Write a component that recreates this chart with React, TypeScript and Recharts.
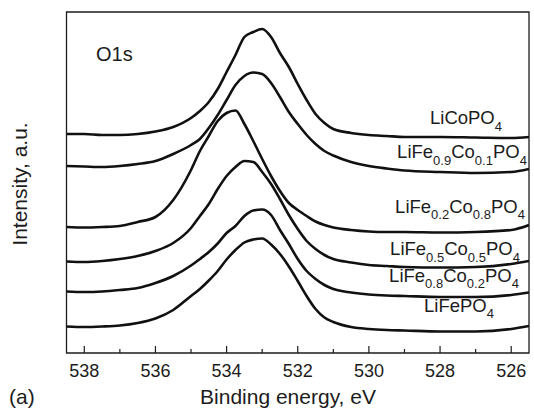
import React from "react";
import {
  LineChart,
  Line,
  XAxis,
  YAxis,
  ReferenceArea,
  Customized,
} from "recharts";

// binding energy grid, eV
const energy = [
  538.5, 538, 537.5, 537, 536.5, 536, 535.5, 535, 534.75, 534.5, 534.25, 534,
  533.75, 533.5, 533.25, 533, 532.75, 532.5, 532.25, 532, 531.75, 531.5,
  531.25, 531, 530.5, 530, 529.5, 529, 528, 527, 526, 525.5,
];

// O1s intensity (a.u., curves already offset)
const liCoPO4 = [
  219, 219, 218, 218, 219, 221.5, 226, 235, 242, 251, 264, 281, 298, 316, 321,
  324, 316, 300, 286, 269, 253, 239, 230, 224, 220, 218, 217, 216, 216, 215.5,
  215, 216,
];
const liFe09Co01 = [
  187, 186.5, 186, 187, 189, 192, 199, 208, 214, 225, 238, 253, 268, 277, 280.5,
  279, 270, 256, 241, 229, 218, 209, 202, 197.5, 191, 187, 184.5, 182.5, 181,
  180, 181, 184,
];
const liFe02Co08 = [
  126, 125.5, 126, 127, 131, 136, 153, 183, 202, 217, 232, 240, 242.5, 229, 212,
  194, 177, 162, 150, 143, 137, 131.5, 128, 125.5, 123, 121.5, 121, 121, 120.5,
  121, 123, 128,
];
const liFe05Co05 = [
  91.5, 91, 92, 94, 97, 102, 110, 125, 137, 149, 164, 177, 186, 192, 191, 181,
  169, 154, 138, 124, 112, 104, 98, 94, 90.5, 88, 87, 86, 85.5, 86, 89, 92,
];
const liFe08Co02 = [
  61.5, 61, 61.5, 63, 65, 70, 77, 87.5, 94, 101, 109.5, 120, 127, 137, 142.5,
  143.5, 138, 123, 109, 94, 82, 74, 68, 64, 60.5, 58.5, 57.5, 57, 56, 56, 58,
  60.5,
];
const liFePO4 = [
  26.5, 26, 26.5, 27.5, 30, 34.5, 43, 57, 64, 72.5, 82, 93.5, 103, 110.5, 113.5,
  114.5, 108.5, 99, 86.5, 72, 57, 44, 35.5, 31, 26, 24, 23, 22.5, 21.5, 21.5, 24,
  27,
];

const xTicks = [538, 537, 536, 535, 534, 533, 532, 531, 530, 529, 528, 527, 526];
const majorTicks = [538, 536, 534, 532, 530, 528, 526];

const seriesKeys = ["s0", "s1", "s2", "s3", "s4", "s5"];

const data = energy.map((e, i) => ({
  e,
  s0: liCoPO4[i],
  s1: liFe09Co01[i],
  s2: liFe02Co08[i],
  s3: liFe05Co05[i],
  s4: liFe08Co02[i],
  s5: liFePO4[i],
}));

// label parts: [text, isSubscript]
const labels: { cx: number; y: number; parts: [string, boolean][] }[] = [
  { cx: 466, y: 124, parts: [["LiCoPO", false], ["4", true]] },
  {
    cx: 462,
    y: 158,
    parts: [["LiFe", false], ["0.9", true], ["Co", false], ["0.1", true], ["PO", false], ["4", true]],
  },
  {
    cx: 460,
    y: 212.5,
    parts: [["LiFe", false], ["0.2", true], ["Co", false], ["0.8", true], ["PO", false], ["4", true]],
  },
  {
    cx: 455,
    y: 255,
    parts: [["LiFe", false], ["0.5", true], ["Co", false], ["0.5", true], ["PO", false], ["4", true]],
  },
  {
    cx: 454,
    y: 281.5,
    parts: [["LiFe", false], ["0.8", true], ["Co", false], ["0.2", true], ["PO", false], ["4", true]],
  },
  { cx: 459, y: 311.5, parts: [["LiFePO", false], ["4", true]] },
];

const ink = "#1c1c1c";

function EnergyTick(props: any) {
  const { x, y, payload } = props;
  const major = majorTicks.includes(payload.value);
  return (
    <g>
      <line
        x1={x}
        x2={x}
        y1={y}
        y2={y - (major ? 7 : 4)}
        stroke={ink}
        strokeWidth={1.2}
      />
      {major && (
        <text x={x} y={y + 24} textAnchor="middle" fontSize={18} fill={ink}>
          {payload.value}
        </text>
      )}
    </g>
  );
}

function Annotations() {
  return (
    <g fill={ink}>
      <text x={96} y={61} fontSize={20}>
        O1s
      </text>
      {labels.map((l, i) => {
        let sub = false;
        return (
          <text key={i} x={l.cx} y={l.y} fontSize={18.5} textAnchor="middle">
            {l.parts.map(([t, isSub], j) => {
              const dy = isSub === sub ? 0 : isSub ? 6.5 : -6.5;
              sub = isSub;
              return (
                <tspan key={j} dy={dy} fontSize={isSub ? 13 : 18.5}>
                  {t}
                </tspan>
              );
            })}
          </text>
        );
      })}
      <text
        x={27}
        y={184}
        fontSize={21}
        textAnchor="middle"
        transform="rotate(-90 27 184)"
      >
        Intensity, a.u.
      </text>
      <text x={288} y={404} fontSize={21} textAnchor="middle">
        Binding energy, eV
      </text>
      <text x={9} y={404} fontSize={21}>
        (a)
      </text>
    </g>
  );
}

export default function App() {
  return (
    <div
      style={{
        position: "absolute",
        left: 0,
        top: 0,
        width: 534,
        height: 410,
        background: "#fff",
        fontFamily: "'Liberation Sans', Arial, sans-serif",
      }}
    >
      <LineChart
        width={534}
        height={410}
        data={data}
        margin={{ top: 12, right: 5, bottom: 0, left: 66.5 }}
      >
        <XAxis
          dataKey="e"
          type="number"
          domain={[525.5, 538.5]}
          reversed
          allowDataOverflow
          ticks={xTicks}
          interval={0}
          tick={<EnergyTick />}
          tickLine={false}
          axisLine={false}
          tickSize={0}
          tickMargin={0}
          height={57}
        />
        <YAxis hide type="number" domain={[0, 341]} allowDataOverflow />
        <ReferenceArea
          x1={525.5}
          x2={538.5}
          y1={0}
          y2={341}
          fill="none"
          stroke={ink}
          strokeWidth={1.3}
          ifOverflow="visible"
        />
        {seriesKeys.map((k) => (
          <Line
            key={k}
            dataKey={k}
            type="monotone"
            stroke="#111"
            strokeWidth={2.6}
            dot={false}
            isAnimationActive={false}
          />
        ))}
        <Customized component={Annotations} />
      </LineChart>
    </div>
  );
}
